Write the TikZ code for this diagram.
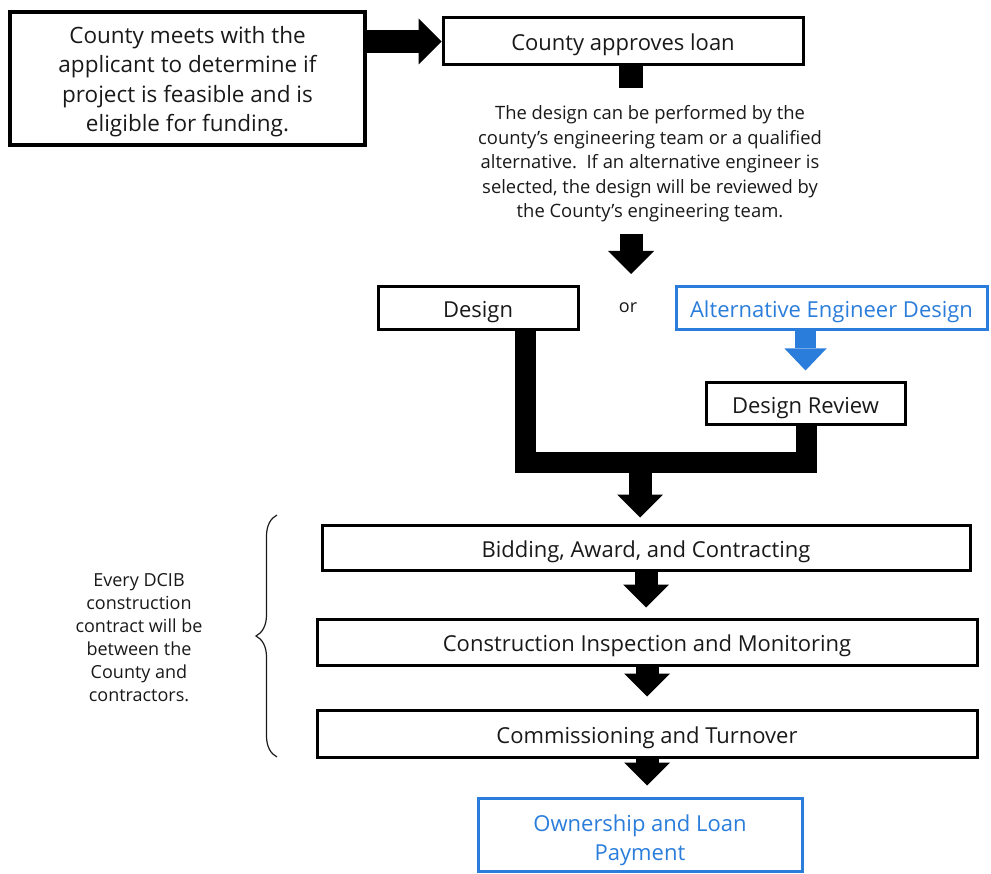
\documentclass[tikz,border=0pt]{standalone}
\usepackage{fontspec}
\setmainfont{Open Sans}
\usetikzlibrary{arrows.meta,decorations.pathreplacing}
\definecolor{inkgrey}{rgb}{0.1, 0.1, 0.1}
\definecolor{altblue}{rgb}{0.17, 0.49, 0.86}
\tikzset{stepbox/.style={draw=black, line width=3pt, text=inkgrey, inner sep=0pt, align=center, font=\fontsize{22}{26}\selectfont}}
\tikzset{oneline/.style={text height=19pt, text depth=0pt}}
\tikzset{altbox/.style={stepbox, draw=altblue, text=altblue}}
\tikzset{bigarrow/.style={line width=23pt, -{Triangle[width=46pt,length=23pt,line width=0pt]}}}
\tikzset{bluearrow/.style={draw=altblue, line width=21pt, -{Triangle[width=42pt,length=22pt,line width=0pt]}}}
\tikzset{joinline/.style={line width=21pt, line join=miter}}

\begin{document}
\begin{tikzpicture}[x=1pt, y=-1pt]
        \useasboundingbox (0,0) rectangle (991,874);

        \node[stepbox, line width=3.5pt, minimum width=355pt, minimum height=133pt, font=\fontsize{22.5}{29.5}\selectfont] (meet) at (187.5,78.5) {\rule{0pt}{1.05em}County meets with the\\applicant to determine if\\project is feasible and is\\eligible for funding.};
        \node[stepbox, oneline, minimum width=360pt, minimum height=47pt] (loan) at (623,41.5) {County approves loan};
        \node[text=inkgrey, align=center, inner sep=0pt, font=\fontsize{18.4}{24.5}\selectfont] (note) at (650,164) {The design can be performed by the\\county’s engineering team or a qualified\\alternative.\ \ If an alternative engineer is\\selected, the design will be reviewed by\\the County’s engineering team.};

        \node[stepbox, oneline, minimum width=200pt, minimum height=43pt] (design) at (478,308.5) {Design};
        \node[text=inkgrey, font=\fontsize{18}{20}\selectfont] (orlbl) at (628,308) {or};
        \node[altbox, oneline, minimum width=311pt, minimum height=43pt] (alt) at (831.5,308.5) {Alternative Engineer Design};
        \node[stepbox, oneline, minimum width=199pt, minimum height=42pt] (review) at (805.5,404) {Design Review};

        \node[stepbox, oneline, minimum width=648pt, minimum height=45pt] (bid) at (646,547.5) {Bidding, Award, and Contracting};
        \node[stepbox, oneline, minimum width=660pt, minimum height=46pt] (cons) at (647,642) {Construction Inspection and Monitoring};
        \node[stepbox, oneline, minimum width=660pt, minimum height=47pt] (comm) at (647,733.5) {Commissioning and Turnover};
        \node[altbox, minimum width=324pt, minimum height=73pt, font=\fontsize{22}{29}\selectfont] (own) at (640,834.5) {\rule{0pt}{1.3em}Ownership and Loan\\Payment};

        \node[text=inkgrey, align=center, font=\fontsize{18}{23}\selectfont] (every) at (139,638) {Every DCIB\\construction\\contract will be\\between the\\County and\\contractors.};

        \coordinate (fork) at (631,274);
        \coordinate (jl) at (525,463);
        \coordinate (jm) at (640,463);
        \coordinate (jr) at (806,463);

        \draw[bigarrow] (meet.east |- loan.west) -- (loan.west);
        \draw[line width=24pt] (loan.south -| fork) -- ++(0,22);
        \draw[bigarrow, shorten <=12pt] (note.south -| fork) -- (fork);
        \draw[bluearrow, shorten >=11pt] (review.north |- alt.south) -- (review.north);

        % both design routes join here
        \draw[joinline] (design.south -| jl) -- (jl) -- (jr) -- (review.south -| jr);
        \draw[bigarrow, shorten >=6pt] (jm) -- (bid.north -| jm);

        \draw[bigarrow, shorten >=10pt] (bid.south) -- (cons.north -| bid.south);
        \draw[bigarrow, shorten >=12pt] (cons.south) -- (comm.north);
        \draw[bigarrow, shorten >=11pt] (comm.south) -- (comm.south |- own.north);

        \draw[inkgrey, line width=1.2pt, decorate, decoration={brace, amplitude=21pt}] (277,757) -- (277,515);
    \end{tikzpicture}
\end{document}
